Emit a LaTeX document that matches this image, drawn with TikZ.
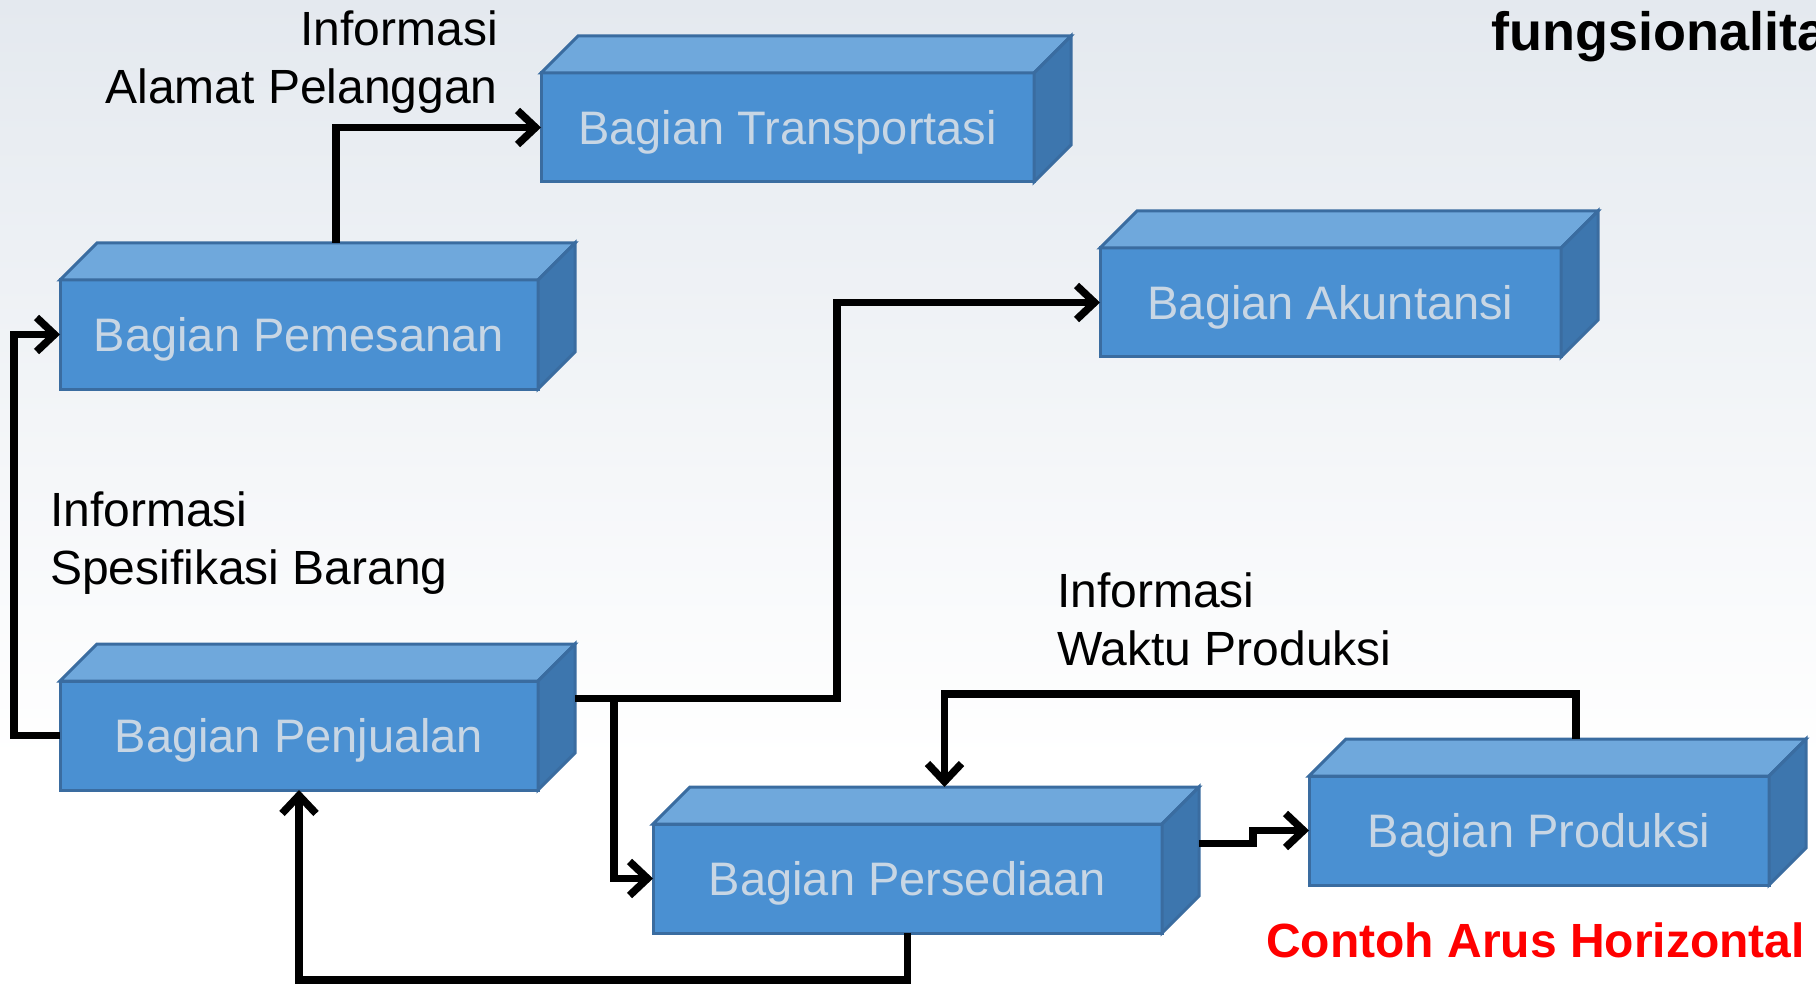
\documentclass[tikz,border=0pt]{standalone}
\usepackage{fontspec}
\setmainfont{Liberation Sans}
\usetikzlibrary{arrows.meta}
\definecolor{bluefront}{RGB}{74,144,210}
\definecolor{bluetop}{RGB}{111,168,220}
\definecolor{blueside}{RGB}{61,118,174}
\definecolor{blueborder}{RGB}{58,108,160}
\definecolor{bluetext}{RGB}{200,214,228}
\definecolor{bgtop}{RGB}{228,233,239}
\tikzset{
  bagian/.style={rectangle, draw=blueborder, line width=3pt, fill=bluefront,
    outer sep=0pt, inner sep=0pt, minimum height=109pt, anchor=north west,
    text depth=0pt, text=bluetext, font=\fontsize{47}{56}\selectfont},
  atas/.style={draw=blueborder, line width=3pt, fill=bluetop},
  samping/.style={draw=blueborder, line width=3pt, fill=blueside},
  panah/.style={line width=7.5pt, -{Straight Barb[length=18pt,width=34pt]}},
  keterangan/.style={inner sep=0pt, font=\fontsize{48}{58}\selectfont}
}
\newcommand{\sisikotak}[1]{%
  \filldraw[atas] (#1.north west) -- ++(37pt,37pt)
    -- ([shift={(37pt,37pt)}]#1.north east) -- (#1.north east) -- cycle;
  \filldraw[samping] (#1.north east) -- ++(37pt,37pt)
    -- ([shift={(37pt,37pt)}]#1.south east) -- (#1.south east) -- cycle;
}
\begin{document}
\begin{tikzpicture}[x=1pt,y=-1pt]
\useasboundingbox (0,0) rectangle (1816,984);
\shade[top color=bgtop, bottom color=white] (0,0) rectangle (1816,760);
\fill[white] (0,760) rectangle (1816,984);

\node[bagian, minimum width=493pt] (transport) at (541,73) {Bagian Transportasi};
\node[bagian, minimum width=478pt] (pesan) at (60,280) {Bagian Pemesanan};
\node[bagian, minimum width=461pt] (akun) at (1100,248) {Bagian Akuntansi};
\node[bagian, minimum width=478pt] (jual) at (60,681) {Bagian Penjualan};
\node[bagian, minimum width=509pt] (sedia) at (653,824) {Bagian Persediaan};
\node[bagian, minimum width=460pt] (produksi) at (1309,776) {Bagian Produksi};
\sisikotak{transport}
\sisikotak{pesan}
\sisikotak{akun}
\sisikotak{jual}
\sisikotak{sedia}
\sisikotak{produksi}

\node[keterangan, anchor=north east, align=right] (infoalamat) at (498,11) {Informasi\\Alamat Pelanggan};
\node[keterangan, anchor=north west, align=left] (infospek) at (50,492) {Informasi\\Spesifikasi Barang};
\node[keterangan, anchor=north west, align=left] (infowaktu) at (1057,573) {Informasi\\Waktu Produksi};
\node[keterangan, anchor=north west, font=\fontsize{54}{64}\selectfont\bfseries] (judul) at (1491,11) {fungsionalita};
\node[keterangan, anchor=north west, text=red, font=\fontsize{48}{58}\selectfont\bfseries] (contoh) at (1266,923) {Contoh Arus Horizontal};

\draw[panah] ([xshift=37pt,yshift=37pt]pesan.north) |- (transport.west);
\draw[panah] (jual.west) -- ++(-46,0) |- (pesan.west);
\draw[panah] ([xshift=37pt,yshift=37pt]jual.east) -- ++(262,0) |- (akun.west);
\draw[panah] ([xshift=76pt,yshift=37pt]jual.east) |- (sedia.west);
\draw[panah] (sedia.south) -- ++(0,47) -| (jual.south);
\draw[panah] ([xshift=37pt,yshift=35pt]sedia.east) -- ++(54,0) |- (produksi.west);
\draw[panah] ([xshift=37pt,yshift=37pt]produksi.north) -- ++(0,-45) -| ([xshift=37pt,yshift=37pt]sedia.north);
\end{tikzpicture}
\end{document}
